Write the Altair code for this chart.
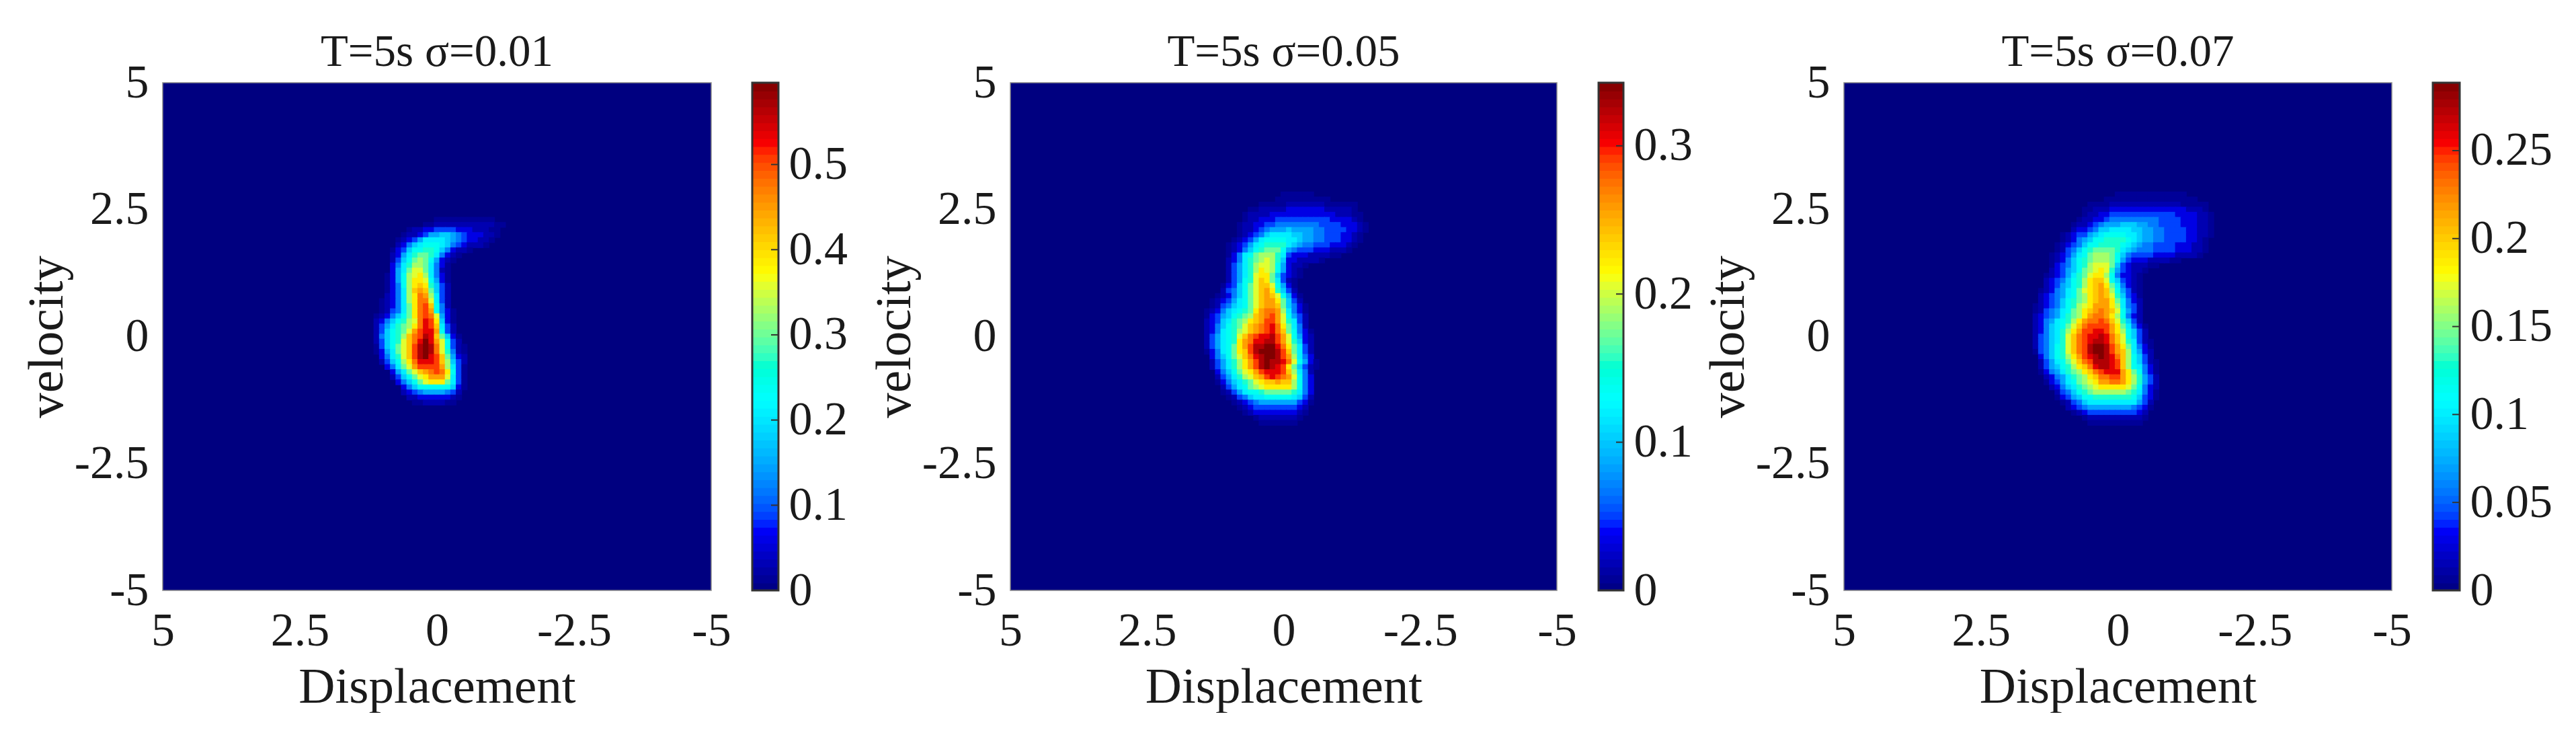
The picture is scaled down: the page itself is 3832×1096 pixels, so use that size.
import altair as alt
import pandas as pd

FONT = "Liberation Serif"
TEXT = "#1a1a1a"
JET = ["#000080", "#0000ff", "#00ffff", "#ffff00", "#ff0000", "#800000"]
LEVELS = {c: i / 20 for i, c in enumerate("0123456789ABCDEFGHIJK")}
LEVELS["a"] = 0.025

TITLES = ["T=5s σ=0.01", "T=5s σ=0.05", "T=5s σ=0.07"]
VMAX = [0.596, 0.3426, 0.2886]
CBAR_TICKS = [[0, 0.1, 0.2, 0.3, 0.4, 0.5], [0, 0.1, 0.2, 0.3], [0, 0.05, 0.1, 0.15, 0.2, 0.25]]
AXIS_TICKS = [5, 2.5, 0, -2.5, -5]

# (first column, levels read along the row); column 0 is displacement 2.0, rows step 0.1 downwards
PANEL1_TOP = 2.3
PANEL1 = [
    (20, "aaaaaaaaaaa"), (18, "aa11111111111aa"), (15, "a11223333222111aa"), (14, "a1123556654322211a"),
    (13, "a1235777765432211a"), (13, "1246788876432111a"), (12, "a2368899864211a"), (12, "12579AA97421a"),
    (12, "1368ABA8521a"), (12, "2479BBA742a"), (12, "257ACCA741a"), (11, "a258BCDB742a"),
    (11, "a258BDDC852a"), (11, "a248BDED9631"), (11, "a247BEFEA631"), (11, "1247BDGFB731"),
    (10, "a1247BDGGC731"), (10, "a1247ADGHE841"), (10, "a1347ADGHF842a"), (9, "a12468ADGHGC52a"),
    (9, "124689BCGIHD62a"), (9, "13579ABDGIHE731"), (9, "13689ACFHIIF831"), (9, "14689BEGHJIEA62a"),
    (9, "13689CEGIKIFC831"), (9, "a368ACEHJKJGC831a"), (9, "a257ACEHJKJGC941a"), (10, "2479CEHJKIHEA521"),
    (10, "1368BDGIIIHEB631"), (11, "247ACFHHHHFB73a"), (12, "257ACEFGHGD83a"), (12, "1368ACDFFFC73a"),
    (13, "2468ACDDDA73a"), (14, "24688888862a"), (14, "12345555431"), (15, "112222221a"), (16, "aa1111aa"),
]
PANEL2_TOP = 2.8
PANEL2 = [
    (20, "aaaaaa"), (19, "aaaaaaaaaa"), (16, "aaaaa1111111aaaaaa"), (14, "aa11111222222211111a"),
    (13, "a1111222222222222111aa"), (13, "a11222333333333322221a"), (12, "a1122334444444433332221a"),
    (12, "a1123455565555443333221a"), (12, "a123467777665544333221a"), (11, "a1235788887765544333221a"),
    (10, "a1235789999765443332221a"), (10, "a124689AAA854333222111a"), (10, "a2478ABBB9732221111aa"),
    (10, "12479ABCB96221111a"), (10, "13579BCCB85211a"), (10, "13579BDCB8521a"), (10, "13579CDDA6321a"),
    (10, "13589CEDA731a"), (9, "a2368ACEEC852a"), (9, "13468ACEFD9631"), (8, "a12468ACEFEC852a"),
    (7, "a123578ACEFFDA631"), (7, "a134678ACEFFEA642a"), (6, "a1246789ADFGGFB742a"), (6, "a235689ABEFGHFC8531"),
    (6, "123679ABDEFHHFC9731"), (6, "124689ACEFGHIGDA741"), (6, "124789BCEFGHIGEA842a"), (6, "135789CEGHIIJHFC8521"),
    (6, "135789DFGIIJJHFC9621"), (6, "13578ADFHJJKKIGDA731"), (6, "a2478ADEHJKKKJHEA731"), (7, "2468ACEGIJKKJHFB742"),
    (7, "13579BDFHJKJJIGC852a"), (7, "13579BDFHJKJIHDA631a"), (8, "2468ACDFHIIIHEB741"), (8, "13579BCEFHIHGFC842"),
    (8, "a24679ACDEEFEEB842"), (9, "13578ABCDDDDDB842"), (9, "a1357889AAAAA9742"), (10, "a134677888887631"),
    (11, "a1234555555532a"), (12, "a123333333321"), (13, "a1222222221a"), (15, "a1111111a"), (16, "aaaaaaa"),
]
PANEL3_TOP = 2.8
PANEL3 = [
    (20, "aaaaaaaaaaaaa"), (18, "aaaaaaaaaaaaaaaaa"), (15, "aaaa1111111111111aaaaa"), (14, "aa11122222222222222111a"),
    (14, "a1122333333333333222211a"), (13, "a11223444444444333322211a"), (12, "a112345556665544333322211a"),
    (12, "1223466777766554433332211a"), (10, "a12335678888776554433332211a"), (10, "a1245688999987655443333221a"),
    (9, "a12346889999876544333322211a"), (9, "a134689AAAA9765444333322211a"), (8, "a123578ABBBA864333322221111a"),
    (8, "a124689ABBBA8532221111aa"), (8, "a234689BCCCA632111aa"), (8, "123568ABCDC953211a"), (7, "a123579ACDDB84221a"),
    (7, "1234689BDEEC86321a"), (7, "1235689BDEFDA7421a"), (6, "a124578ACDEFEB8531a"), (6, "1234578ABDEFEC9632a"),
    (6, "1234689ABDEFFDA7421"), (5, "a1234689BCDFFFDB7431"), (5, "a134578ABDEFGFEC8531"), (5, "1234579ABDFGGFDB8421"),
    (5, "1245789BDFGGHGEC9631"), (5, "124678ACEGHHHHFDA742a"), (5, "124679BDFHHIIHFDB8631"), (5, "134679CEGHIIJIGEC8631"),
    (5, "134679CEGHIJJIGEC9731a"), (5, "134689CEGHJKKJHFDA742a"), (5, "a34689CEGHJKKJHFEB7521"), (6, "24689BDFHIJKJIGEB8631"),
    (6, "13578ACEGHJJJIHEB8631a"), (6, "135689BDEGIJJIHEB8742a"), (6, "a24579ABDEGHIIIFDA842a"), (7, "124579ABDEGGHHFDB9531"),
    (7, "a23578ABCDFFGGFDB9531"), (8, "124679ABCDDDDDCA8421"), (9, "134689ABBBBBBA9742a"), (9, "a23568899999998632a"),
    (10, "a1346777777777531"), (11, "123455555555432a"), (12, "a1233333333321"), (14, "a1111111111a"), (15, "aaaaaaaaaa"),
]

PANELS = [(PANEL1, PANEL1_TOP), (PANEL2, PANEL2_TOP), (PANEL3, PANEL3_TOP)]
HEAT_W = [816, 813, 815]
CBAR_W = [39, 37, 40]
HEIGHT = 755
GAPS = [61, 345, 62, 328, 61]


def jet_scale(vmax):
    stops = [0, 0.125, 0.375, 0.625, 0.875, 1]
    return alt.Scale(domain=[s * vmax for s in stops], range=JET, clamp=True)


def heat(i):
    rows, top = PANELS[i]
    recs = []
    for r, (start, levels) in enumerate(rows):
        y = top - 0.1 * r
        for k, ch in enumerate(levels):
            x = 2.0 - 0.1 * (start + k)
            recs.append({"x1": x + 0.056, "x2": x - 0.056, "y1": y - 0.056, "y2": y + 0.056,
                         "v": LEVELS[ch] * VMAX[i]})
    xaxis = alt.Axis(values=AXIS_TICKS, labelExpr="'' + datum.value", ticks=False, domain=False, grid=False,
                     labelFont=FONT, labelFontSize=70, labelColor=TEXT, labelPadding=26, labelOverlap=False,
                     labelFlush=False, labelBound=False, title="Displacement", titleFont=FONT, titleFontSize=75,
                     titleFontWeight="normal", titleColor=TEXT, titleY=166, titleBaseline="alphabetic")
    yaxis = alt.Axis(values=AXIS_TICKS, labelExpr="'' + datum.value", ticks=False, domain=False, grid=False,
                     labelFont=FONT, labelFontSize=70, labelColor=TEXT, labelPadding=21, labelOverlap=False,
                     labelFlush=False, labelBound=False, title="velocity", titleFont=FONT, titleFontSize=75,
                     titleFontWeight="normal", titleColor=TEXT, titleX=-150, titleBaseline="alphabetic")
    cells = alt.Chart(pd.DataFrame(recs)).mark_rect().encode(
        x=alt.X("x1:Q", scale=alt.Scale(domain=[5, -5], nice=False, zero=False), axis=xaxis),
        x2="x2:Q",
        y=alt.Y("y1:Q", scale=alt.Scale(domain=[-5, 5], nice=False, zero=False), axis=yaxis),
        y2="y2:Q",
        color=alt.Color("v:Q", scale=jet_scale(VMAX[i]), legend=None),
    )
    title = alt.Chart(pd.DataFrame({"t": [TITLES[i]]})).mark_text(
        font=FONT, fontSize=67, color=TEXT, align="center", baseline="alphabetic"
    ).encode(x=alt.value(HEAT_W[i] / 2), y=alt.value(-25), text="t:N")
    return alt.layer(cells, title).properties(
        width=HEAT_W[i], height=HEIGHT,
        view=alt.ViewBackground(fill="#000080", stroke="#8a8a8a", strokeWidth=1.5),
    )


def cbar(i):
    n = 64
    m = VMAX[i]
    ramp = pd.DataFrame({
        "lo": [max(0, k - 0.1) / n * m for k in range(n)],
        "hi": [min(n, k + 1.1) / n * m for k in range(n)],
        "v": [(k + 0.5) / n * m for k in range(n)],
    })
    w = CBAR_W[i]
    yscale = alt.Scale(domain=[0, m], nice=False, zero=False)
    axis = alt.Axis(values=CBAR_TICKS[i], orient="right", labelExpr="'' + datum.value", ticks=False, domain=False,
                    grid=False, title=None, labelFont=FONT, labelFontSize=70, labelColor=TEXT, labelPadding=15,
                    labelOverlap=False, labelFlush=False, labelBound=False)
    bars = alt.Chart(ramp).mark_rect().encode(
        x=alt.value(0), x2=alt.value(w),
        y=alt.Y("lo:Q", scale=yscale, axis=axis), y2="hi:Q",
        color=alt.Color("v:Q", scale=jet_scale(m), legend=None),
    )
    ticks = alt.Chart(pd.DataFrame({"t": CBAR_TICKS[i][1:]})).mark_rule(color="#333333", strokeWidth=2).encode(
        x=alt.value(w - 11), x2=alt.value(w),
        y=alt.Y("t:Q", scale=yscale, axis=axis),
    )
    frame = alt.Chart(pd.DataFrame({"k": [0]})).mark_rect(fillOpacity=0, stroke="#333333", strokeWidth=3).encode(
        x=alt.value(0), x2=alt.value(w), y=alt.value(0), y2=alt.value(HEIGHT),
    )
    return alt.layer(bars, ticks, frame).properties(
        width=w, height=HEIGHT, view=alt.ViewBackground(stroke="transparent"))


def gap(w):
    return alt.Chart(pd.DataFrame({"k": [0]})).mark_text(text=" ", opacity=0).encode(
        x=alt.value(0), y=alt.value(0)
    ).properties(width=w, height=HEIGHT, view=alt.ViewBackground(stroke="transparent"))


chart = alt.hconcat(
    heat(0), gap(GAPS[0]), cbar(0), gap(GAPS[1]),
    heat(1), gap(GAPS[2]), cbar(1), gap(GAPS[3]),
    heat(2), gap(GAPS[4]), cbar(2),
    spacing=0, bounds="flush",
).resolve_scale(color="independent").properties(
    padding={"left": 23, "top": 35, "right": 0, "bottom": 0}, background="white"
)

chart.save("out.html", embed_options={"renderer": "svg", "actions": False})
